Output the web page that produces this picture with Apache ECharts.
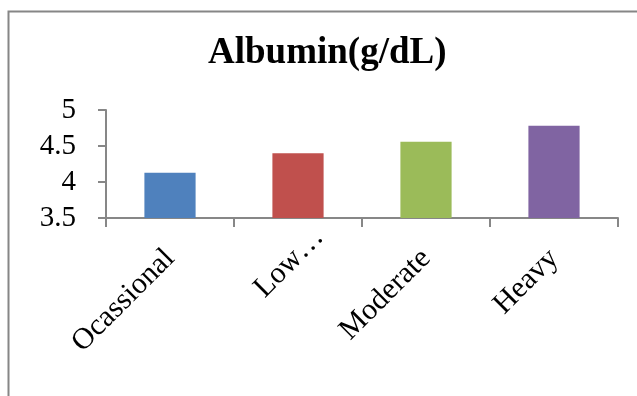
<!DOCTYPE html>
<html><head><meta charset="utf-8">
<script src="https://cdn.jsdelivr.net/npm/echarts@6/dist/echarts.min.js"></script>
<style>html,body{margin:0;padding:0;background:#fff}#c{width:637px;height:396px}</style>
</head><body><div id="c"></div>
<script>
const categories = ['Ocassional', 'Low\u2026', 'Moderate', 'Heavy'];
const values = [4.13, 4.40, 4.56, 4.78];
const barColors = ['#4F81BD', '#C0504D', '#9BBB59', '#8064A2'];
const yTicks = [3.5, 4, 4.5, 5];

const chart = echarts.init(document.getElementById('c'), null, {renderer: 'canvas'});
const serif = '"Liberation Serif", "Times New Roman", serif';
chart.setOption({
  animation: false,
  backgroundColor: '#fff',
  graphic: [{
    type: 'rect', shape: {x: 8.5, y: 11.5, width: 700, height: 500},
    style: {fill: 'none', stroke: '#868686', lineWidth: 2}, silent: true
  }],
  title: {
    text: 'Albumin(g/dL)', left: 203, top: 30,
    textStyle: {fontFamily: serif, fontWeight: 'bold', fontSize: 37, color: '#000'}
  },
  grid: {left: 106, right: 19, top: 110, bottom: 178, containLabel: false},
  xAxis: {
    type: 'category',
    data: categories.map((c, i) => i === 1 ? {value: c, textStyle: {padding: [0, -30, 0, 0]}} : c),
    axisLine: {lineStyle: {color: '#878787', width: 2}},
    axisTick: {show: true, length: 9, lineStyle: {color: '#878787', width: 2}},
    axisLabel: {rotate: 45, fontFamily: serif, fontSize: 30, color: '#000', margin: 36, interval: 0}
  },
  yAxis: {
    type: 'value', min: 3.5, max: 5, interval: 0.5,
    splitLine: {show: false},
    axisLine: {show: true, lineStyle: {color: '#878787', width: 2}},
    axisTick: {show: true, length: 8, lineStyle: {color: '#878787', width: 2}},
    axisLabel: {fontFamily: serif, fontSize: 29, color: '#000', margin: 30,
      formatter: v => yTicks.includes(v) ? String(v) : ''}
  },
  series: [{
    type: 'bar', barWidth: '40%',
    data: values.map((v, i) => ({value: v, itemStyle: {color: barColors[i]}}))
  }]
});
</script></body></html>
